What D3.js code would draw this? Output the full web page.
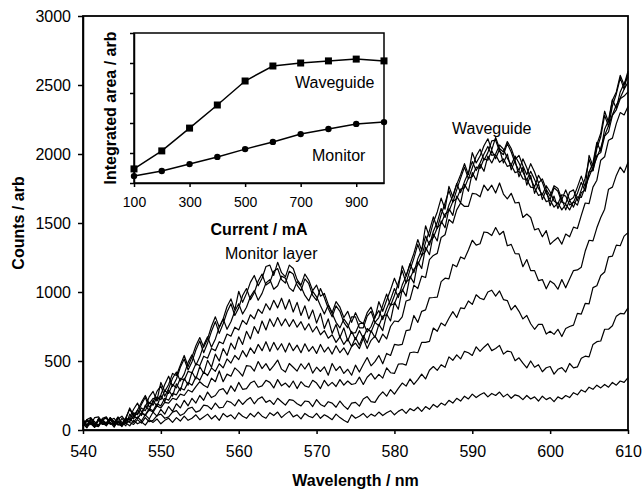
<!DOCTYPE html>
<html>
 <head>
  <meta charset="utf-8" />
  <title>Counts vs wavelength</title>
  <style>
   body, html {
    margin: 0;
    padding: 0;
    background: #fff;
   }
   svg {
    display: block;
    font-family: "Liberation Sans", Arial, sans-serif;
   }
   .axis path, .axis line {
    stroke: #000;
    stroke-width: 1.5;
   }
   .axis text {
    fill: #000;
   }
   .spectrum {
    fill: none;
    stroke: #000;
    stroke-width: 1.2;
    stroke-linejoin: round;
   }
  </style>
  <script src="https://cdnjs.cloudflare.com/ajax/libs/d3/7.9.0/d3.min.js"></script>
 </head>
 <body>
  <svg width="642" height="489"></svg>
  <script>
   // wavelength grid, 0.5 nm steps 540..610
   const wavelengths = d3.range(540, 610.5, 0.5);

   // spectra, one per drive current (100..1000 mA), 5 nm per row
   const s100 = [
    45,15,60,30,25,70,40,55,20,65,
    35,50,30,70,45,60,35,75,55,80,
    45,70,85,55,90,65,100,70,85,110,
    75,95,115,80,105,70,120,95,110,80,
    125,100,85,120,95,130,100,85,125,105,
    130,90,115,135,95,110,80,120,100,90,
    120,85,110,95,75,115,90,70,55,110,
    85,100,120,90,115,100,130,105,125,140,
    110,135,150,120,155,140,165,135,170,150,
    185,165,195,180,215,195,230,210,245,225,
    260,235,255,270,240,265,250,275,240,260,
    230,255,245,220,250,225,240,210,245,220,
    235,205,240,225,250,235,270,255,290,275,
    310,295,325,305,330,310,345,325,355,345,
    380];
   const s200 = [
    30,65,45,20,70,40,55,75,35,60,
    25,70,55,40,75,50,90,60,70,105,
    115,85,95,130,140,105,120,155,165,130,
    140,180,175,150,195,160,165,210,200,175,
    220,185,215,235,190,225,240,200,215,185,
    230,205,180,220,215,190,175,210,205,170,
    220,185,170,205,195,165,210,175,150,195,
    200,173,225,242,205,200,245,277,245,293,
    260,302,340,318,370,330,365,405,370,433,
    460,432,473,454,530,505,545,515,570,560,
    540,603,570,600,625,575,590,613,550,572,
    565,502,523,484,450,500,455,473,422,451,
    460,405,440,452,420,482,450,457,520,535,
    530,620,640,645,730,730,755,825,845,842,
    885];
   const s300 = [
    55,25,70,40,30,75,50,85,40,65,
    30,75,80,55,95,65,110,80,130,100,
    150,115,170,135,190,160,215,175,230,195,
    250,215,275,235,250,290,300,260,320,280,
    345,295,300,340,355,310,320,360,345,305,
    365,320,340,310,355,300,350,320,310,360,
    340,300,360,320,345,315,365,325,355,330,
    337,383,330,382,410,369,403,376,450,415,
    410,477,480,470,560,565,560,635,635,642,
    739,715,775,755,810,858,815,885,880,935,
    910,980,955,945,1000,1013,970,1008,945,938,
    870,903,860,805,830,770,730,765,765,695,
    715,693,730,677,735,750,760,845,840,917,
    914,1032,1045,1120,1145,1255,1260,1340,1335,1405,
    1430];
   const s400 = [
    40,75,50,20,80,55,45,85,60,35,
    85,50,65,100,85,120,105,145,130,175,
    160,200,195,230,220,260,250,290,275,315,
    350,324,308,376,350,428,350,405,390,450,
    425,391,467,462,427,496,445,481,432,467,
    507,441,420,482,455,427,480,442,485,412,
    455,424,458,397,482,431,461,410,440,397,
    470,420,475,525,465,495,540,480,555,540,
    620,615,620,720,725,830,780,860,870,958,
    960,963,1075,1100,1095,1200,1183,1254,1240,1305,
    1375,1340,1350,1435,1430,1409,1467,1415,1440,1335,
    1345,1278,1276,1183,1235,1155,1155,1083,1090,1023,
    1080,1060,1020,1090,1030,1095,1155,1160,1180,1295,
    1375,1370,1465,1540,1600,1745,1760,1845,1905,1865,
    1940];
   const s500 = [
    30,70,55,25,80,45,35,90,60,40,
    30,75,60,100,85,125,110,155,140,190,
    175,230,215,265,255,305,290,345,325,385,
    360,420,395,450,425,480,450,515,485,540,
    510,575,530,595,555,620,575,640,570,635,
    580,625,565,630,575,615,560,625,570,605,
    555,620,565,600,550,610,560,595,545,605,
    630,590,665,590,650,680,635,695,660,750,
    790,785,820,935,945,1050,1025,1115,1105,1235,
    1265,1280,1395,1415,1525,1500,1595,1645,1620,1620,
    1715,1710,1690,1775,1735,1774,1717,1790,1710,1675,
    1715,1645,1650,1540,1565,1540,1450,1460,1400,1445,
    1345,1372,1395,1347,1420,1400,1470,1460,1555,1645,
    1640,1760,1810,1955,1980,2100,2115,2220,2300,2283,
    2345];
   const s600 = [
    65,30,80,45,35,75,85,50,40,90,
    55,30,115,80,145,105,180,140,215,170,
    250,205,290,245,335,285,375,325,420,370,
    460,410,505,455,550,500,590,540,630,585,
    675,620,715,660,750,700,790,725,805,750,
    815,755,805,750,800,745,785,725,770,710,
    750,690,720,665,690,635,675,620,660,605,
    670,615,685,630,720,670,765,720,840,790,
    925,875,1020,970,1115,1065,1220,1170,1325,1270,
    1420,1370,1515,1465,1605,1555,1695,1645,1780,1730,
    1865,1810,1925,1875,1985,1935,1995,1940,1965,1910,
    1920,1865,1875,1820,1815,1760,1755,1700,1710,1655,
    1665,1615,1645,1595,1635,1595,1655,1630,1720,1740,
    1870,1880,1990,2010,2130,2160,2280,2320,2400,2420,
    2450];
   const s700 = [
    30,70,55,25,85,40,50,90,30,65,
    45,85,75,125,110,160,140,200,180,240,
    220,285,265,330,305,375,360,425,415,480,
    465,535,520,590,575,640,625,695,680,745,
    725,795,765,835,805,875,845,915,870,940,
    885,955,875,945,855,925,830,900,805,870,
    775,845,735,805,700,765,670,740,645,715,
    655,720,665,735,710,780,755,825,835,905,
    915,985,1005,1075,1095,1165,1195,1265,1295,1365,
    1395,1465,1495,1565,1585,1655,1675,1745,1755,1825,
    1835,1905,1895,1965,1955,2025,1965,2035,1935,2000,
    1885,1955,1835,1905,1775,1845,1715,1785,1670,1740,
    1625,1695,1605,1675,1595,1665,1615,1690,1685,1760,
    1835,1905,1975,2045,2135,2205,2285,2355,2405,2470,
    2520];
   const s800 = [
    80,35,40,90,95,55,30,70,85,40,
    45,90,150,100,120,185,235,165,200,280,
    320,245,300,375,420,355,405,490,545,470,
    530,615,675,600,660,745,805,730,785,860,
    915,840,890,965,1010,940,990,1065,1090,1020,
    1045,1115,1100,1030,1005,1075,1040,975,935,1005,
    965,900,840,905,845,780,740,805,765,700,
    705,770,775,710,750,820,865,800,880,945,
    1025,960,1050,1115,1205,1140,1240,1305,1405,1340,
    1440,1505,1605,1540,1630,1695,1785,1720,1800,1865,
    1945,1880,1935,2000,2055,1990,2000,2065,2035,1970,
    1920,1985,1935,1870,1810,1875,1815,1750,1705,1770,
    1725,1660,1640,1705,1695,1630,1650,1715,1795,1730,
    1870,1935,2085,2020,2180,2245,2395,2330,2450,2510,
    2560];
   const s900 = [
    30,75,90,45,35,85,95,50,40,80,
    100,60,90,150,195,130,165,240,280,210,
    255,330,390,315,370,455,515,435,495,580,
    645,560,630,715,785,700,770,855,915,830,
    885,975,1025,945,995,1080,1130,1050,1070,1150,
    1170,1090,1065,1150,1130,1050,1010,1095,1060,975,
    940,1025,960,880,820,900,860,780,740,820,
    820,740,740,825,860,780,815,905,985,900,
    975,1065,1155,1065,1160,1245,1345,1260,1360,1445,
    1545,1460,1560,1645,1735,1650,1740,1825,1905,1820,
    1900,1985,2035,1955,2010,2095,2100,2020,1995,2075,
    2015,1935,1880,1965,1900,1820,1760,1845,1795,1715,
    1670,1755,1730,1650,1640,1725,1740,1660,1740,1825,
    1960,1880,2040,2125,2280,2200,2350,2435,2550,2470,
    2590];
   const s1000 = [
    70,35,85,60,30,75,90,40,55,95,
    40,80,160,105,145,200,250,190,230,215,
    345,280,330,410,395,470,540,460,530,610,
    670,600,660,750,820,745,805,895,950,870,
    1005,925,990,1070,1120,1045,1100,1185,1195,1120,
    1215,1140,1110,1195,1170,1090,1050,1130,1085,1010,
    1050,970,990,910,850,930,890,815,860,780,
    850,790,770,850,890,810,930,860,940,1015,
    1100,1030,1190,1115,1200,1280,1380,1300,1480,1400,
    1505,1580,1680,1600,1765,1690,1780,1850,1930,1850,
    2010,1935,1985,2060,2110,2030,2120,2040,2015,2090,
    2040,1960,1990,1915,1850,1930,1870,1790,1820,1745,
    1695,1770,1750,1670,1740,1665,1685,1760,1840,1760,
    1990,1910,2070,2150,2310,2230,2390,2450,2570,2500,
    2600];
   const spectra = [s100, s200, s300, s400, s500, s600, s700, s800, s900, s1000];

   const xTicks = [540, 550, 560, 570, 580, 590, 600, 610];
   const yTicks = [0, 500, 1000, 1500, 2000, 2500, 3000];

   // inset: integrated area vs current (arbitrary units, no labels on its y axis)
   const currents = [100, 200, 300, 400, 500, 600, 700, 800, 900, 1000];
   const waveguideArea = [0.47, 1.07, 1.83, 2.6, 3.4, 3.9, 4.0, 4.07, 4.13, 4.07];
   const monitorArea = [0.23, 0.4, 0.63, 0.87, 1.13, 1.37, 1.63, 1.8, 1.97, 2.03];
   const insetXTicks = [100, 300, 500, 700, 900];
   const insetYTicks = [0, 1, 2, 3, 4, 5];

   const svg = d3.select("svg");
   svg.append("rect").attr("width", 642).attr("height", 489).attr("fill", "#fff");

   const x = d3.scaleLinear().domain([540, 610]).range([83, 628]);
   const y = d3.scaleLinear().domain([0, 3000]).range([430, 16]);

   const line = d3.line()
    .defined((d, i) => i < wavelengths.length)
    .x((d, i) => x(wavelengths[i]))
    .y(d => y(d));

   svg.append("g").selectAll("path")
    .data(spectra)
    .enter().append("path")
    .attr("class", "spectrum")
    .attr("d", line);

   // frame
   svg.append("rect")
    .attr("x", x(540)).attr("y", y(3000))
    .attr("width", x(610) - x(540)).attr("height", y(0) - y(3000))
    .attr("fill", "none").attr("stroke", "#000").attr("stroke-width", 1.8);

   const xAxis = svg.append("g")
    .attr("class", "axis")
    .attr("transform", `translate(0,${y(0)})`)
    .call(d3.axisBottom(x).tickValues(xTicks).tickSize(4).tickPadding(12).tickSizeOuter(0));
   xAxis.selectAll("text").style("font-size", "16px");

   const yAxis = svg.append("g")
    .attr("class", "axis")
    .attr("transform", `translate(${x(540)},0)`)
    .call(d3.axisLeft(y).tickValues(yTicks).tickFormat(d3.format("d")).tickSize(5).tickPadding(7).tickSizeOuter(0));
   yAxis.selectAll("text").style("font-size", "16px");

   svg.append("text")
    .attr("transform", "translate(24,223) rotate(-90)")
    .attr("text-anchor", "middle")
    .style("font-size", "16px").style("font-weight", "bold")
    .text("Counts / arb");

   svg.append("text")
    .attr("x", (x(540) + x(610)) / 2).attr("y", 486)
    .attr("text-anchor", "middle")
    .style("font-size", "16px").style("font-weight", "bold")
    .text("Wavelength / nm");

   svg.append("text")
    .attr("x", 225).attr("y", 259)
    .style("font-size", "16px")
    .text("Monitor layer");

   svg.append("text")
    .attr("x", 452).attr("y", 134)
    .style("font-size", "16px")
    .text("Waveguide");

   // inset
   const ix = d3.scaleLinear().domain([100, 1000]).range([134, 384]);
   const iy = d3.scaleLinear().domain([0, 5]).range([183, 33]);
   const inset = svg.append("g");

   inset.append("rect")
    .attr("x", ix(100)).attr("y", iy(5))
    .attr("width", ix(1000) - ix(100)).attr("height", iy(0) - iy(5))
    .attr("fill", "#fff").attr("stroke", "#000").attr("stroke-width", 1.5);

   const ixAxis = inset.append("g")
    .attr("class", "axis")
    .attr("transform", `translate(0,${iy(0)})`)
    .call(d3.axisBottom(ix).tickValues(insetXTicks).tickSize(4).tickPadding(10).tickSizeOuter(0));
   ixAxis.selectAll("text").style("font-size", "14px");

   inset.append("g")
    .attr("class", "axis")
    .attr("transform", `translate(${ix(100)},0)`)
    .call(d3.axisLeft(iy).tickValues(insetYTicks).tickSize(4).tickFormat("").tickSizeOuter(0));

   const insetLine = d3.line()
    .x((d, i) => ix(currents[i]))
    .y(d => iy(d));

   inset.append("path").datum(waveguideArea)
    .attr("d", insetLine).attr("fill", "none").attr("stroke", "#000").attr("stroke-width", 1.5);
   inset.append("path").datum(monitorArea)
    .attr("d", insetLine).attr("fill", "none").attr("stroke", "#000").attr("stroke-width", 1.5);

   inset.selectAll("rect.sq")
    .data(waveguideArea)
    .enter().append("rect")
    .attr("class", "sq")
    .attr("x", (d, i) => ix(currents[i]) - 3.5)
    .attr("y", d => iy(d) - 3.5)
    .attr("width", 7).attr("height", 7)
    .attr("fill", "#000");

   inset.selectAll("circle")
    .data(monitorArea)
    .enter().append("circle")
    .attr("cx", (d, i) => ix(currents[i]))
    .attr("cy", d => iy(d))
    .attr("r", 3.2)
    .attr("fill", "#000");

   inset.append("text")
    .attr("transform", "translate(116,108) rotate(-90)")
    .attr("text-anchor", "middle")
    .style("font-size", "16px").style("font-weight", "bold")
    .text("Integrated area / arb");

   inset.append("text")
    .attr("x", 259).attr("y", 235)
    .attr("text-anchor", "middle")
    .style("font-size", "16px").style("font-weight", "bold")
    .text("Current / mA");

   inset.append("text")
    .attr("x", 295).attr("y", 88)
    .style("font-size", "16px")
    .text("Waveguide");

   inset.append("text")
    .attr("x", 312).attr("y", 161)
    .style("font-size", "16px")
    .text("Monitor");
  </script>
 </body>
</html>
